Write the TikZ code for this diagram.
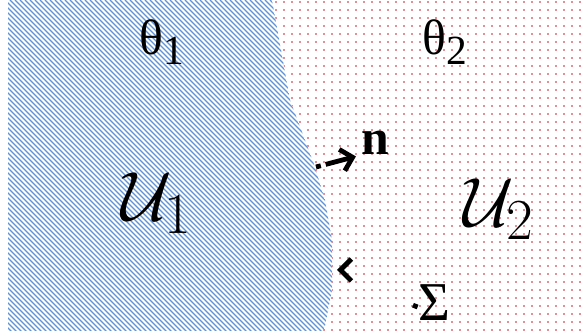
\documentclass[tikz,border=0pt]{standalone}
\usepackage{fontspec}
\setmainfont{Liberation Serif}
\usetikzlibrary{arrows.meta}
\definecolor{stripeblue}{RGB}{96,146,214}
\definecolor{dotpink}{RGB}{228,142,152}

\begin{document}
\begin{tikzpicture}[x=0.5pt,y=-0.5pt,font=\Huge,
    lbl/.style={inner sep=0pt},
    vec/.style={line width=2.4pt,-{Straight Barb[length=5.5pt,width=11pt,line width=2.4pt]}}]
  \useasboundingbox (0,0) rectangle (585,336);
  \begin{scope}
    \clip (272,0) -- (585,0) -- (585,336) -- (322,336) -- (332,290) -- (332,240) -- (325,200)
      -- (315,167) -- (305,140) -- (290,100) -- cycle;
    \foreach \x in {268,276,...,588}
      \foreach \y in {2,10,...,338}
        \fill[dotpink] (\x-1.4,\y-1.4) rectangle (\x+1.4,\y+1.4);
  \end{scope}
  \begin{scope}
    \clip (8,0) -- (272,0) -- (290,100) -- (305,140) -- (315,167) -- (325,200) -- (332,240)
      -- (332,290) -- (324,331) -- (8,331) -- cycle;
    \foreach \a in {-340,-335,...,340}
      \draw[stripeblue,line width=0.65pt] (\a,0) -- (\a+336,336);
  \end{scope}
  \node[lbl] (th1) at (162,42) {θ\textsubscript{1}};
  \node[lbl] (th2) at (445,42) {θ\textsubscript{2}};
  \node[lbl,scale=1.4] (u1) at (157,203) {$\mathcal{U}_1$};
  \node[lbl,scale=1.4] (u2) at (499,209) {$\mathcal{U}_2$};
  \node[lbl] (n) at (375,143) {\textbf{n}};
  \node[lbl,scale=1.1] (sig) at (434,303) {Σ};
  \coordinate (nfoot) at (316,167);
  \coordinate (sigfoot) at (337,270);
  \draw[vec,dash pattern=on 2.5pt off 2.5pt on 30pt,shorten >=2.5pt] (nfoot) -- (n.south west);
  \draw[vec,dash pattern=on 2.5pt off 80pt] ([yshift=-2pt]sig.west) to[out=160,in=0] (sigfoot);
\end{tikzpicture}
\end{document}
